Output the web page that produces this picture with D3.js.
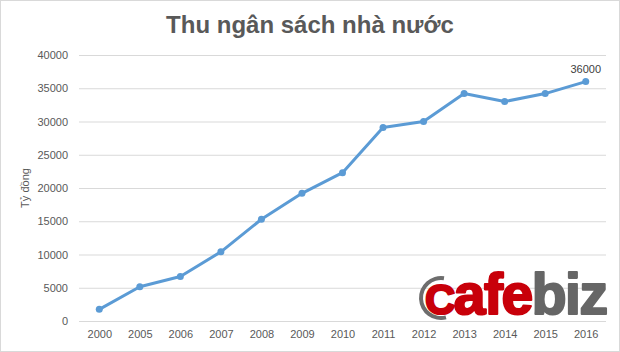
<!DOCTYPE html>
<html>
<head>
<meta charset="utf-8">
<script src="https://cdn.jsdelivr.net/npm/d3@7"></script>
<style>
  body { margin: 0; background: #fff; }
  svg { display: block; font-family: "Liberation Sans", Arial, sans-serif; }
</style>
</head>
<body>
<svg width="620" height="352"></svg>
<script>
const years = ["2000","2005","2006","2007","2008","2009","2010","2011","2012","2013","2014","2015","2016"];
const values = [1750, 5150, 6700, 10400, 15300, 19200, 22300, 29100, 30000, 34200, 33000, 34200, 36000];
const yTicks = [0, 5000, 10000, 15000, 20000, 25000, 30000, 35000, 40000];

const svg = d3.select("svg");
const plotLeft = 79, plotRight = 606, plotTop = 55, plotBottom = 321;

// frame
svg.append("rect")
   .attr("x", 0.5).attr("y", 0.5)
   .attr("width", 619).attr("height", 351)
   .attr("fill", "#fff")
   .attr("stroke", "#d9d9d9");

// title
svg.append("text")
   .attr("x", 310)
   .attr("y", 33)
   .attr("text-anchor", "middle")
   .attr("font-size", "24px")
   .attr("font-weight", "bold")
   .attr("fill", "#595959")
   .text("Thu ngân sách nhà nước");

const x = d3.scalePoint().domain(years).range([plotLeft, plotRight]).padding(0.5);
const y = d3.scaleLinear().domain([0, 40000]).range([plotBottom, plotTop]);

// y axis + gridlines
const yAxis = svg.append("g")
   .attr("transform", "translate(" + plotLeft + ",0)")
   .call(d3.axisLeft(y).tickValues(yTicks).tickFormat(d3.format("d")).tickSize(-(plotRight - plotLeft)).tickPadding(11));
yAxis.select(".domain").remove();
yAxis.selectAll("line").attr("stroke", "#d9d9d9");
yAxis.selectAll("text").attr("fill", "#595959").attr("font-size", "11px").attr("font-family", "Liberation Sans, Arial, sans-serif");

// x axis
const xAxis = svg.append("g")
   .attr("transform", "translate(0," + plotBottom + ")")
   .call(d3.axisBottom(x).tickSize(0).tickPadding(9));
xAxis.select(".domain").attr("stroke", "#d9d9d9").attr("d", "M" + plotLeft + ",0.5H" + plotRight);
xAxis.selectAll("text").attr("fill", "#595959").attr("font-size", "11px").attr("font-family", "Liberation Sans, Arial, sans-serif");

// y label
svg.append("text")
   .attr("transform", "translate(29,188) rotate(-90)")
   .attr("text-anchor", "middle")
   .attr("font-size", "11px")
   .attr("fill", "#595959")
   .text("Tỷ đồng");

// watermark logo
const logo = svg.append("g");
logo.append("path")
   .attr("transform", "translate(441,298)")
   .attr("d", d3.arc().innerRadius(18).outerRadius(22).startAngle(-Math.PI * 1.08).endAngle(0.15)())
   .attr("fill", "#6d6d6d");
const logoText = logo.append("text")
   .attr("x", 425)
   .attr("y", 314)
   .attr("font-weight", "bold")
   .attr("font-family", "Liberation Sans, Arial, sans-serif")
   .attr("stroke-width", 2.2)
   .attr("stroke-linejoin", "round")
   .attr("letter-spacing", "-1.5px");
logoText.append("tspan").attr("font-size", "42px").attr("fill", "#c8000a").attr("stroke", "#c8000a").text("C");
logoText.append("tspan").attr("font-size", "57px").attr("fill", "#c8000a").attr("stroke", "#c8000a").text("afe");
logoText.append("tspan").attr("font-size", "57px").attr("fill", "#666666").attr("stroke", "#666666").text("biz");

// line
const data = years.map((d, i) => ({ year: d, value: values[i] }));
svg.append("path")
   .datum(data)
   .attr("fill", "none")
   .attr("stroke", "#5b9bd5")
   .attr("stroke-width", 3)
   .attr("stroke-linejoin", "round")
   .attr("d", d3.line().x(d => x(d.year)).y(d => y(d.value)));

svg.selectAll(".dot")
   .data(data)
   .enter()
   .append("circle")
   .attr("class", "dot")
   .attr("cx", d => x(d.year))
   .attr("cy", d => y(d.value))
   .attr("r", 3.5)
   .attr("fill", "#5b9bd5");

// data label for last point
const last = data[data.length - 1];
svg.append("text")
   .attr("x", x(last.year))
   .attr("y", y(last.value) - 9)
   .attr("text-anchor", "middle")
   .attr("font-size", "11px")
   .attr("fill", "#404040")
   .text(last.value);
</script>
</body>
</html>
